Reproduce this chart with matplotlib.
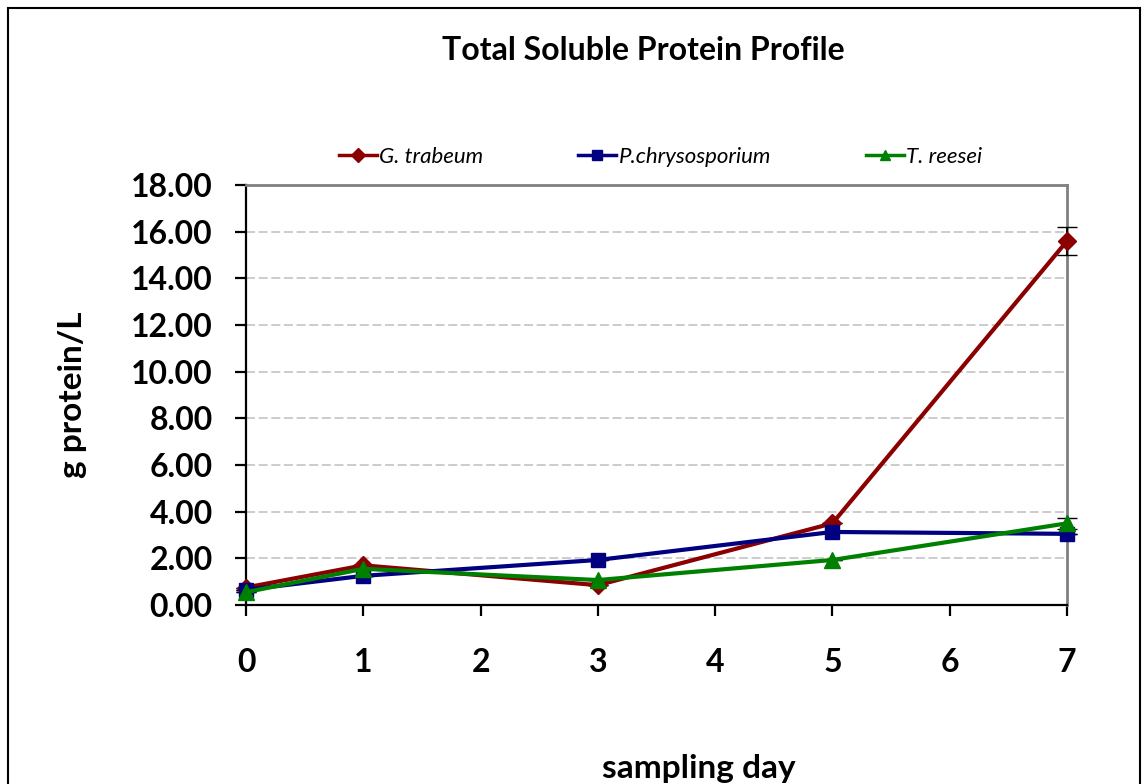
import matplotlib
matplotlib.use("Agg")
import matplotlib.pyplot as plt
from matplotlib.patches import Rectangle

plt.rcParams["font.family"] = ["Lato", "DejaVu Sans"]

days = [0, 1, 3, 5, 7]
g_trabeum = [0.75, 1.70, 0.85, 3.50, 15.60]
g_trabeum_err = [0.0, 0.0, 0.0, 0.0, 0.60]
p_chryso = [0.65, 1.25, 1.93, 3.13, 3.05]
p_chryso_err = [0.0, 0.0, 0.0, 0.0, 0.0]
t_reesei = [0.55, 1.55, 1.07, 1.93, 3.50]
t_reesei_err = [0.0, 0.0, 0.0, 0.0, 0.25]

series = [
    ("G. trabeum", g_trabeum, g_trabeum_err, "#8b0000", "D", 9),
    ("P.chrysosporium", p_chryso, p_chryso_err, "#000080", "s", 10),
    ("T. reesei", t_reesei, t_reesei_err, "#008000", "^", 11),
]

fig = plt.figure(figsize=(11.47, 7.84), dpi=100)
ax = fig.add_axes([246 / 1147, 1 - 605 / 784, (1067 - 246) / 1147, (605 - 185) / 784])

for name, vals, err, color, marker, ms in series:
    ax.errorbar(days, vals, yerr=err, color=color, marker=marker, markersize=ms,
                linewidth=3, ecolor="black", elinewidth=1.3, capsize=7,
                label=name, clip_on=False, zorder=3)

ax.set_xlim(0, 7)
ax.set_ylim(0, 18)
ax.set_yticks(range(0, 19, 2))
ax.set_yticklabels([f"{v:.2f}" for v in range(0, 19, 2)])
ax.set_xticks(range(0, 8))
ax.yaxis.grid(True, linestyle=(0, (5, 2)), color="#c8c8c8", linewidth=1.3)
ax.set_axisbelow(True)

for s in ["top", "right"]:
    ax.spines[s].set_color("#808080")
    ax.spines[s].set_linewidth(2)
for s in ["left", "bottom"]:
    ax.spines[s].set_color("black")
    ax.spines[s].set_linewidth(1.6)

ax.tick_params(axis="both", direction="out", length=8, width=1.6, labelsize=23)
ax.tick_params(axis="x", pad=23)
ax.tick_params(axis="y", pad=16)
for lbl in ax.get_xticklabels() + ax.get_yticklabels():
    lbl.set_fontweight("bold")

fig.text(0.561, 0.936, "Total Soluble Protein Profile", ha="center", va="center",
         fontsize=23, fontweight="bold")
fig.text(0.063, 0.496, "g protein/L", rotation=90, ha="center", va="center",
         fontsize=24, fontweight="bold")
fig.text(0.609, 0.020, "sampling day", ha="center", va="center",
         fontsize=24, fontweight="bold")

handles, labels = ax.get_legend_handles_labels()
handles = [h[0] for h in handles]
leg = fig.legend(handles, labels, loc="center", bbox_to_anchor=(0.576, 0.80), ncol=3,
                 frameon=False, handlelength=1.7, handletextpad=0.1, columnspacing=4.3,
                 prop={"style": "italic", "size": 16})
for h in leg.legend_handles:
    h.set_markersize(7)
    h.set_linewidth(2.5)

fig.patches.append(Rectangle((8 / 1147, -0.1), (1140 - 8) / 1147, 1.1 - 8 / 784,
                             transform=fig.transFigure, fill=False, edgecolor="black",
                             linewidth=1.5))

fig.savefig("out.png", dpi=100)
